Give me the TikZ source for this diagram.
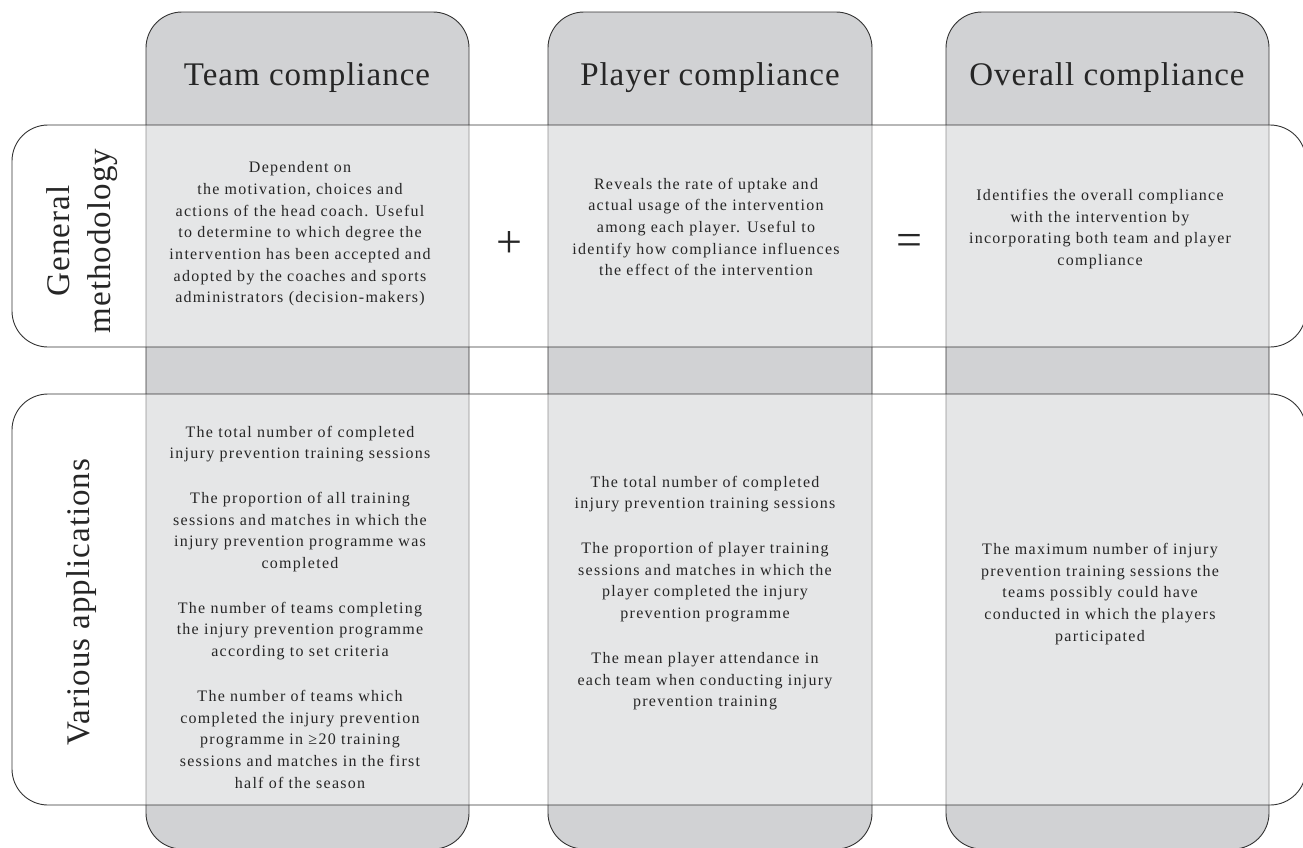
\documentclass[tikz,border=0pt]{standalone}
\usepackage{fontspec}
\setmainfont{Liberation Serif}
\newfontfamily\headfamily[LetterSpace=3]{Liberation Serif}
\newfontfamily\bodyfamily[LetterSpace=8]{Liberation Serif}
\usepackage{tikz}
\usetikzlibrary{positioning}
\definecolor{headgray}{HTML}{D1D2D4}
\definecolor{linegray}{HTML}{333333}
\definecolor{textgray}{HTML}{262626}
\tikzset{
  colbox/.style={draw=linegray, fill=headgray, line width=0.9pt, rounded corners=36pt},
  rowbox/.style={draw=linegray, fill=white, fill opacity=0.45, line width=0.9pt, rounded corners=36pt},
  headtext/.style={font={\headfamily\fontsize{33}{40}\selectfont}, text=textgray, inner sep=0pt},
  bodytext/.style={font={\bodyfamily\fontsize{16}{21.7}\selectfont}, text=textgray, align=center, inner sep=0pt},
  optext/.style={font={\fontsize{46}{46}\selectfont}, text=textgray, inner sep=0pt}
}
\begin{document}
\begin{tikzpicture}[x=1pt,y=-1pt]

	\useasboundingbox (0,0) rectangle (1303,847);

	    % columns
	    \draw[colbox] (146,12) rectangle (469,849);
	    \draw[colbox] (548,12) rectangle (872,849);
	    \draw[colbox] (946,12) rectangle (1269,849);

	    % rows
	    \draw[rowbox] (12,125) rectangle (1306,347);
	    \draw[rowbox] (12,394) rectangle (1306,805);

	    % column titles
	    \node[headtext, anchor=base] (teamhead) at (307,85) {Team compliance};
	    \node[headtext, anchor=base] (playerhead) at (710,85) {Player compliance};
	    \node[headtext, anchor=base] (overallhead) at (1107,85) {Overall compliance};

	    % row titles
	    \node[headtext, rotate=90, align=center, font={\headfamily\fontsize{33}{41}\selectfont}] (genlabel) at (82,241) {General\\methodology};
	    \node[headtext, rotate=90] (applabel) at (82,602) {Various applications};

	    % general methodology
	    \node[bodytext] (teamgen) at (300,234) {Dependent on\\
	        the motivation, choices and\\
	        actions of the head coach. Useful\\
	        to determine to which degree the\\
	        intervention has been accepted and\\
	        adopted by the coaches and sports\\
	        administrators (decision-makers)};
	    \node[bodytext] (playergen) at (706,227) {Reveals the rate of uptake and\\
	        actual usage of the intervention\\
	        among each player. Useful to\\
	        identify how compliance influences\\
	        the effect of the intervention};
	    \node[bodytext] (overallgen) at (1100,229) {Identifies the overall compliance\\
	        with the intervention by\\
	        incorporating both team and player\\
	        compliance};

	    \node[optext] (plus) at (509,244) {+};
	    \node[optext] (equals) at (909,245) {=};

	    % various applications
	    \node[bodytext] (teamapp) at (300,607) {The total number of completed\\
	        injury prevention training sessions\\[23pt]
	        The proportion of all training\\
	        sessions and matches in which the\\
	        injury prevention programme was\\
	        completed\\[23pt]
	        The number of teams completing\\
	        the injury prevention programme\\
	        according to set criteria\\[23pt]
	        The number of teams which\\
	        completed the injury prevention\\
	        programme in ≥20 training\\
	        sessions and matches in the first\\
	        half of the season};
	    \node[bodytext] (playerapp) at (705,593) {The total number of completed\\
	        injury prevention training sessions\\[23pt]
	        The proportion of player training\\
	        sessions and matches in which the\\
	        player completed the injury\\
	        prevention programme\\[23pt]
	        The mean player attendance in\\
	        each team when conducting injury\\
	        prevention training};
	    \node[bodytext] (overallapp) at (1100,594) {The maximum number of injury\\
	        prevention training sessions the\\
	        teams possibly could have\\
	        conducted in which the players\\
	        participated};

\end{tikzpicture}
\end{document}
